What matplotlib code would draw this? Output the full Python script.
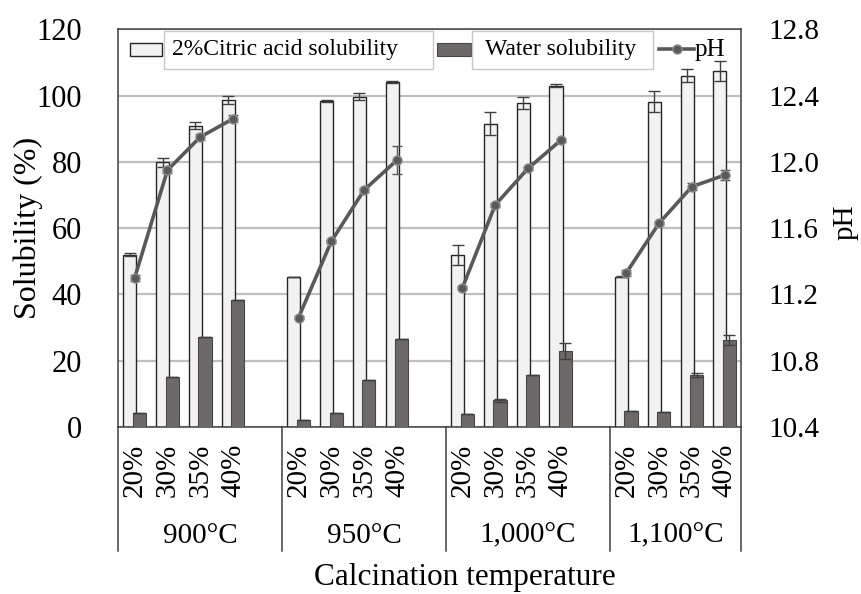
import numpy as np
import matplotlib
matplotlib.use('Agg')
import matplotlib.pyplot as plt
from matplotlib.patches import Rectangle
from matplotlib.lines import Line2D
import matplotlib.transforms as mtransforms

plt.rcParams['font.family'] = ['Liberation Serif', 'DejaVu Serif']

groups = ['900°C', '950°C', '1,000°C', '1,100°C']
ratios = ['20%', '30%', '35%', '40%']
citric = [52.0, 79.9, 90.9, 98.7,
          45.2, 98.5, 99.7, 104.2,
          52.0, 91.5, 97.7, 103.0,
          45.4, 98.2, 106.0, 107.5]
citric_err = [0.5, 1.3, 1.0, 1.2,
              0.0, 0.3, 1.1, 0.3,
              3.0, 3.5, 1.8, 0.4,
              0.2, 3.3, 2.0, 3.0]
water = [4.3, 15.2, 27.3, 38.4,
         2.2, 4.2, 14.3, 26.5,
         4.0, 8.0, 15.8, 22.9,
         4.8, 4.5, 15.7, 26.3]
water_err = [0.0, 0.0, 0.0, 0.0,
             0.0, 0.0, 0.0, 0.0,
             0.0, 0.5, 0.0, 2.4,
             0.0, 0.0, 0.5, 1.6]
ph = [11.30, 11.95, 12.15, 12.26,
      11.06, 11.52, 11.83, 12.01,
      11.24, 11.74, 11.96, 12.13,
      11.33, 11.63, 11.85, 11.92]
ph_err = [0.02, 0.02, 0.02, 0.02,
          0.01, 0.01, 0.01, 0.085,
          0.01, 0.01, 0.01, 0.01,
          0.02, 0.01, 0.02, 0.03]

W, H = 862, 594
fig = plt.figure(figsize=(W / 100, H / 100), dpi=100)

# plot area in pixels
x0, x1, y0, y1 = 118.3, 741.0, 29.3, 427.0
ax = fig.add_axes([x0 / W, 1 - y1 / H, (x1 - x0) / W, (y1 - y0) / H])

# each group gets 5 slots (4 bars + a blank), the last one only 4
pos = np.array([g * 5 + i for g in range(len(groups)) for i in range(len(ratios))], dtype=float)
bw = 0.40
off = 0.145
c_light = '#f2f2f2'
c_dark = '#6e6969'
c_edge = '#262626'

ax.bar(pos - off, citric, bw, color=c_light, edgecolor=c_edge, linewidth=1.0, zorder=2)
ax.bar(pos + off, water, bw, color=c_dark, edgecolor='#4a4646', linewidth=0.8, zorder=3)
ax.errorbar(pos - off, citric, yerr=citric_err, fmt='none', ecolor='#404040',
            elinewidth=1.0, capsize=4, capthick=1.0, zorder=4)
ax.errorbar(pos + off, water, yerr=water_err, fmt='none', ecolor='#404040',
            elinewidth=1.0, capsize=4, capthick=1.0, zorder=4)

ax.set_xlim(-0.5, 18.5)
ax.set_ylim(0, 120)
ax.set_yticks(np.arange(0, 121, 20))
ax.yaxis.grid(True, color='#bfbfbf', linewidth=1.6)
ax.set_axisbelow(True)
ax.tick_params(axis='y', length=0, pad=26, labelsize=22)
ax.set_xticks(pos)
ax.set_xticklabels(ratios * len(groups), rotation=90)
ax.tick_params(axis='x', length=0, pad=12, labelsize=21)
for s in ax.spines.values():
    s.set_color('#404040')
    s.set_linewidth(1.1)

# pH on the secondary axis, one line per group
ax2 = ax.twinx()
ph_arr = np.array(ph)
pe_arr = np.array(ph_err)
for g in range(len(groups)):
    sl = slice(g * 4, g * 4 + 4)
    ax2.errorbar(pos[sl], ph_arr[sl], yerr=pe_arr[sl], color='#595959', linewidth=2.6,
                 marker='o', markersize=6.5, markerfacecolor='#5a5a5a',
                 markeredgecolor='#8a8a8a', ecolor='#595959', elinewidth=1.0,
                 capsize=3.5, zorder=5)
ax2.set_ylim(10.4, 12.8)
ax2.set_yticks(np.arange(10.4, 12.81, 0.4))
ax2.set_yticklabels(['%.1f' % v for v in np.arange(10.4, 12.81, 0.4)])
ax2.tick_params(axis='y', length=0, pad=20, labelsize=21)
for s in ax2.spines.values():
    s.set_visible(False)

# axis titles
fig.text(28 / W, 1 - 228 / H, 'Solubility (%)', rotation=90, ha='center', va='center', fontsize=23)
fig.text(846 / W, 1 - 222 / H, 'pH', rotation=90, ha='center', va='center', fontsize=21)

# group boxes under the axis
trans = mtransforms.blended_transform_factory(ax.transData, ax.transAxes)
y_end = -(551 - y1) / (y1 - y0)
for b in [-0.5, 4.5, 9.5, 14.5, 18.5]:
    ax.plot([b, b], [0, y_end], color='#404040', linewidth=1.1, transform=trans, clip_on=False)
bounds = [(-0.5, 4.5), (4.5, 9.5), (9.5, 14.5), (14.5, 18.5)]
for (a, b), name in zip(bounds, groups):
    ax.text((a + b) / 2, -(535.7 - y1) / (y1 - y0), name, transform=trans,
            ha='center', va='center', fontsize=21)

fig.text(465 / W, 1 - 578 / H, 'Calcination temperature', ha='center', va='center', fontsize=22.5)


# legend drawn by hand in pixel coordinates
def fx(px):
    return px / W


def fy(py):
    return 1 - py / H


fig.patches.append(Rectangle((fx(130), fy(56)), (162 - 130) / W, 13 / H, transform=fig.transFigure,
                             facecolor=c_light, edgecolor=c_edge, linewidth=1.0))
fig.patches.append(Rectangle((fx(164), fy(69)), (433 - 164) / W, 38 / H, transform=fig.transFigure,
                             facecolor='white', edgecolor='#c8c8c8', linewidth=1.0))
fig.text(fx(172), fy(50), '2%Citric acid solubility', ha='left', va='center', fontsize=17)
fig.patches.append(Rectangle((fx(437), fy(56)), (471 - 437) / W, 13 / H, transform=fig.transFigure,
                             facecolor=c_dark, edgecolor='#4a4646', linewidth=0.8))
fig.patches.append(Rectangle((fx(472), fy(69)), (653 - 472) / W, 38 / H, transform=fig.transFigure,
                             facecolor='white', edgecolor='#c8c8c8', linewidth=1.0))
fig.text(fx(485), fy(50), 'Water solubility', ha='left', va='center', fontsize=17)
fig.lines.append(Line2D([fx(659), fx(694)], [fy(49), fy(49)], transform=fig.transFigure,
                        color='#595959', linewidth=2.6))
fig.lines.append(Line2D([fx(676.5)], [fy(49)], transform=fig.transFigure, color='#595959',
                        marker='o', markersize=6.5, markerfacecolor='#5a5a5a',
                        markeredgecolor='#8a8a8a', linestyle='none'))
fig.text(fx(695), fy(50), 'pH', ha='left', va='center', fontsize=18)

fig.savefig('out.png', dpi=100)
